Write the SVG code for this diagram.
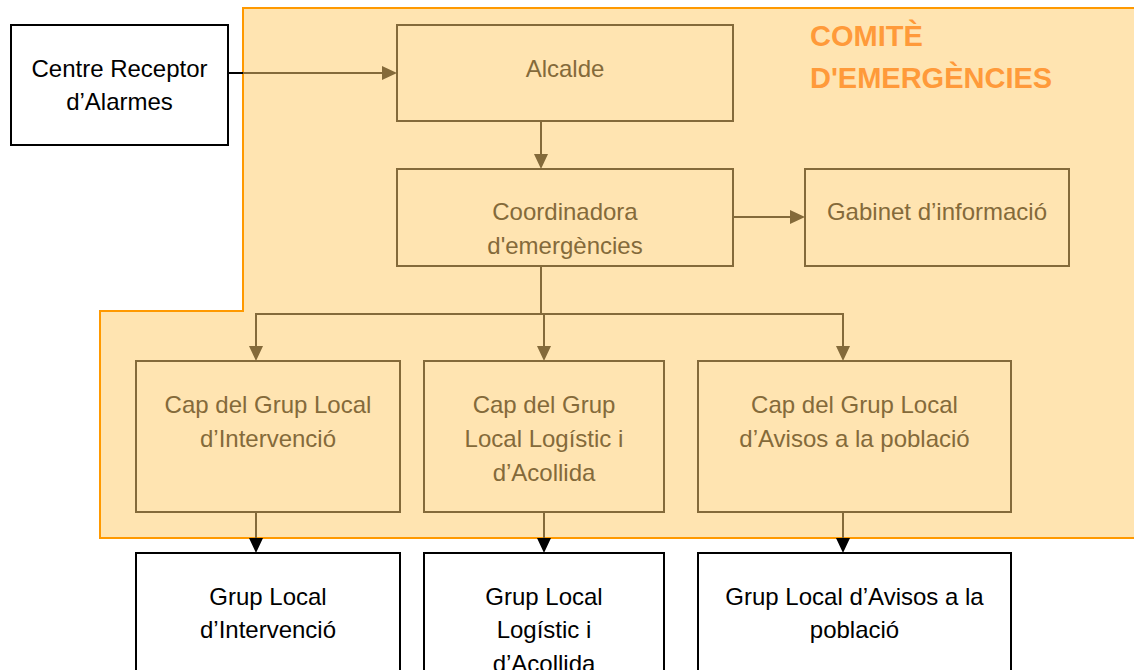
<svg xmlns="http://www.w3.org/2000/svg" width="1134" height="670" viewBox="0 0 1134 670">
<defs>
<style>
.inbox{fill:none;stroke:#846A3A;stroke-width:2}
.outbox{fill:#FFFFFF;stroke:#000000;stroke-width:2}
.t{font-family:"Liberation Sans",Arial,sans-serif;font-size:24px;text-anchor:middle}
.tb{fill:#846A3A}
.tk{fill:#000000}
.title{font-family:"Liberation Sans",Arial,sans-serif;font-size:29px;font-weight:bold;fill:#FF9A3A}
.cb{fill:none;stroke:#846A3A;stroke-width:2}
.ck{fill:none;stroke:#000000;stroke-width:2}
</style>
<marker id="ab" markerUnits="userSpaceOnUse" markerWidth="15" markerHeight="14" refX="0" refY="7" orient="auto">
<path d="M0,0 L15,7 L0,14 z" fill="#846A3A"/>
</marker>
<marker id="ak" markerUnits="userSpaceOnUse" markerWidth="15" markerHeight="14" refX="0" refY="7" orient="auto">
<path d="M0,0 L15,7 L0,14 z" fill="#000000"/>
</marker>
</defs>
<rect width="1134" height="670" fill="#FFFFFF"/>
<g id="comite">
<polygon points="243,8 1140,8 1140,538 100,538 100,311 243,311" fill="#FFE4B1" stroke="#FF9900" stroke-width="2"/>
<text class="title" x="810" y="46">COMITÈ</text>
<text class="title" x="810" y="88">D'EMERGÈNCIES</text>
</g>
<g id="centre">
<rect class="outbox" x="11" y="25" width="217" height="120"/>
<text class="t tk" x="119.5" y="77">Centre Receptor</text>
<text class="t tk" x="119.5" y="110">d’Alarmes</text>
</g>
<g id="alcalde">
<rect class="inbox" x="397" y="25" width="336" height="96"/>
<text class="t tb" x="565" y="77">Alcalde</text>
</g>
<g id="coordinadora">
<rect class="inbox" x="397" y="169" width="336" height="97"/>
<text class="t tb" x="565" y="220">Coordinadora</text>
<text class="t tb" x="565" y="254">d'emergències</text>
</g>
<g id="gabinet">
<rect class="inbox" x="805" y="169" width="264" height="97"/>
<text class="t tb" x="937" y="220">Gabinet d’informació</text>
</g>
<g id="cap-intervencio">
<rect class="inbox" x="136" y="361" width="264" height="151"/>
<text class="t tb" x="268" y="413">Cap del Grup Local</text>
<text class="t tb" x="268" y="447">d’Intervenció</text>
</g>
<g id="cap-logistic">
<rect class="inbox" x="424" y="361" width="240" height="151"/>
<text class="t tb" x="544" y="413">Cap del Grup</text>
<text class="t tb" x="544" y="447">Local Logístic i</text>
<text class="t tb" x="544" y="481">d’Acollida</text>
</g>
<g id="cap-avisos">
<rect class="inbox" x="698" y="361" width="313" height="151"/>
<text class="t tb" x="854.5" y="413">Cap del Grup Local</text>
<text class="t tb" x="854.5" y="447">d’Avisos a la població</text>
</g>
<g id="grup-intervencio">
<rect class="outbox" x="136" y="553" width="264" height="140"/>
<text class="t tk" x="268" y="605">Grup Local</text>
<text class="t tk" x="268" y="638">d’Intervenció</text>
</g>
<g id="grup-logistic">
<rect class="outbox" x="424" y="553" width="240" height="140"/>
<text class="t tk" x="544" y="605">Grup Local</text>
<text class="t tk" x="544" y="638">Logístic i</text>
<text class="t tk" x="544" y="672">d’Acollida</text>
</g>
<g id="grup-avisos">
<rect class="outbox" x="698" y="553" width="313" height="140"/>
<text class="t tk" x="854.5" y="605">Grup Local d’Avisos a la</text>
<text class="t tk" x="854.5" y="638">població</text>
</g>
<g id="connectors">
<line class="ck" x1="228" y1="73" x2="243" y2="73"/>
<line class="cb" x1="243" y1="73" x2="382" y2="73" marker-end="url(#ab)"/>
<line class="cb" x1="541" y1="121" x2="541" y2="154" marker-end="url(#ab)"/>
<line class="cb" x1="733" y1="217" x2="790" y2="217" marker-end="url(#ab)"/>
<polyline class="cb" points="541,266 541,314"/>
<polyline class="cb" points="256,314 843,314"/>
<line class="cb" x1="256" y1="313" x2="256" y2="346" marker-end="url(#ab)"/>
<line class="cb" x1="544" y1="313" x2="544" y2="346" marker-end="url(#ab)"/>
<line class="cb" x1="843" y1="313" x2="843" y2="346" marker-end="url(#ab)"/>
<line class="cb" x1="256" y1="512" x2="256" y2="538" marker-end="url(#ak)"/>
<line class="cb" x1="544" y1="512" x2="544" y2="538" marker-end="url(#ak)"/>
<line class="cb" x1="843" y1="512" x2="843" y2="538" marker-end="url(#ak)"/>
</g>
</svg>
